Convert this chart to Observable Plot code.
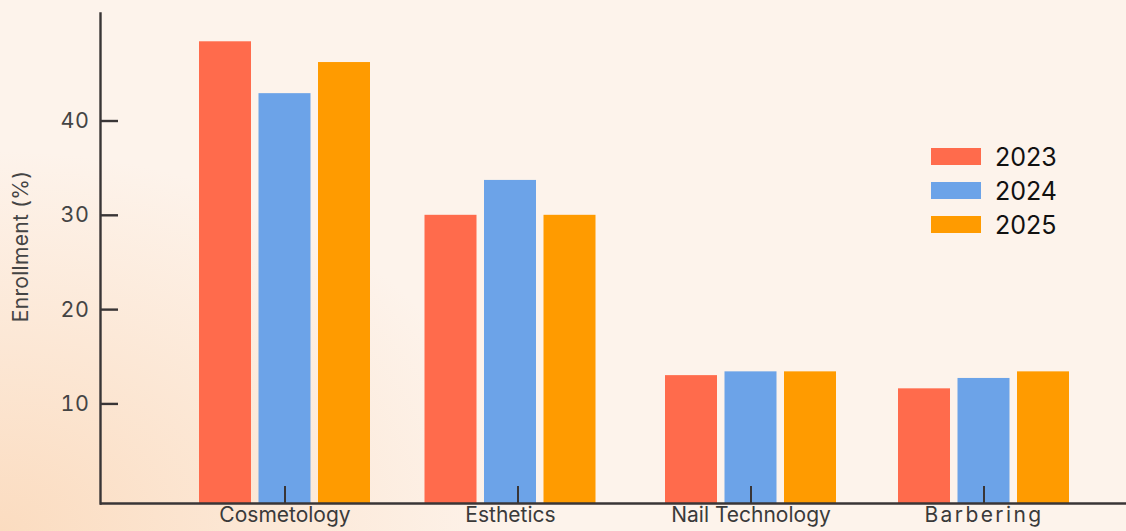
<!DOCTYPE html>
<html>
<head>
<meta charset="utf-8">
<script src="https://cdn.jsdelivr.net/npm/d3@7"></script>
<script src="https://cdn.jsdelivr.net/npm/@observablehq/plot@0.6"></script>
<style>
  html, body { margin: 0; padding: 0; }
  body {
    width: 1126px; height: 531px; overflow: hidden; position: relative;
    background-color: #fdf3eb;
    background-image: radial-gradient(ellipse 520px 380px at 0% 100%, #fbdcc0 0%, rgba(253,243,235,0) 100%);
  }
  #chart { position: absolute; left: 0; top: 0; }
  #legend { position: absolute; left: 931px; top: 140px; }
  .yr-swatch { height: 33px; font: 25px Inter, sans-serif; color: #111; }
  .yr-swatch > svg { margin-right: 14px !important; }
</style>
</head>
<body>
<div id="chart"></div>
<div id="legend"></div>
<script>
// Enrollment share by program, per year
const categories = ["Cosmetology", "Esthetics", "Nail Technology", "Barbering"];
const years = ["2023", "2024", "2025"];
const values2023 = [48.4, 30.0, 13.0, 11.6];
const values2024 = [42.9, 33.7, 13.4, 12.7];
const values2025 = [46.2, 30.0, 13.4, 13.4];
const yTicks = [10, 20, 30, 40];
const colors = ["#ff6b4c", "#6ca3e8", "#ff9b00"];

const series = [values2023, values2024, values2025];
const rows = years.flatMap((year, i) =>
  categories.map((category, j) => ({category, year, value: series[i][j]}))
);

const yMin = -0.56;   // baseline sits a little under zero
const yMax = 51.4;
const barStep = 59.5; // offset between neighbouring bars inside a group
const nudged = "Esthetics"; // this group (bars + label) sits slightly left of its tick
const nudge = -7.5;

const axisColor = "#393536";

const bars = years.flatMap((year, i) => {
  const opts = {
    x: "category",
    y1: yMin,
    y2: "value",
    fill: "year",
    insetLeft: i * barStep,
    insetRight: (years.length - 1 - i) * barStep
  };
  return [
    Plot.barY(rows.filter(d => d.year === year && d.category !== nudged), opts),
    Plot.barY(rows.filter(d => d.year === year && d.category === nudged), {...opts, dx: nudge})
  ];
});

const xText = {fill: "#3a3a3a", fontSize: 21, label: null};

const chart = Plot.plot({
  width: 1126,
  height: 531,
  marginLeft: 100,
  marginRight: 0,
  marginTop: 13,
  marginBottom: 28,
  style: {background: "transparent", fontFamily: "Inter, sans-serif", overflow: "visible"},
  x: {domain: categories, paddingInner: 0.267, paddingOuter: 0.332, align: 0.636},
  y: {domain: [yMin, yMax]},
  color: {domain: years, range: colors},
  marks: [
    ...bars,
    Plot.frame({anchor: "left", stroke: axisColor, strokeWidth: 2.4}),
    Plot.ruleY([yMin], {stroke: axisColor, strokeWidth: 2.6}),
    Plot.axisY({
      ticks: yTicks,
      tickSize: -18,
      tickPadding: 29,
      strokeWidth: 2.4,
      stroke: axisColor,
      fill: "#444",
      fontSize: 21.5,
      label: "Enrollment (%)",
      labelAnchor: "center",
      labelArrow: "none",
      labelOffset: 87
    }),
    // tick marks for every program, labels for all but the nudged one
    Plot.axisX({
      tickSize: -17,
      tickPadding: 21,
      strokeWidth: 2,
      stroke: axisColor,
      tickFormat: d => (d === nudged ? "" : d),
      ...xText
    }),
    Plot.axisX({ticks: [nudged], tickSize: 0, tickPadding: 4, dx: nudge, ...xText})
  ]
});
document.getElementById("chart").append(chart);

// text styling the marks have no option for
const svg = d3.select(chart);
svg.selectAll('g[aria-label="y-axis tick label"] text').attr("letter-spacing", 0.6);
svg.selectAll('g[aria-label="y-axis label"] text')
  .attr("font-size", 21)
  .attr("letter-spacing", 0.3)
  .attr("transform", function () {
    return (d3.select(this).attr("transform") || "") + " translate(12,0)";
  });
svg.selectAll('g[aria-label="x-axis tick label"] text')
  .filter(function () { return this.textContent === "Barbering"; })
  .attr("letter-spacing", 2.4);

const legend = Plot.legend({
  color: {domain: years, range: colors},
  legend: "swatches",
  columns: 1,
  swatchWidth: 50,
  swatchHeight: 17,
  className: "yr"
});
document.getElementById("legend").append(legend);
</script>
</body>
</html>
